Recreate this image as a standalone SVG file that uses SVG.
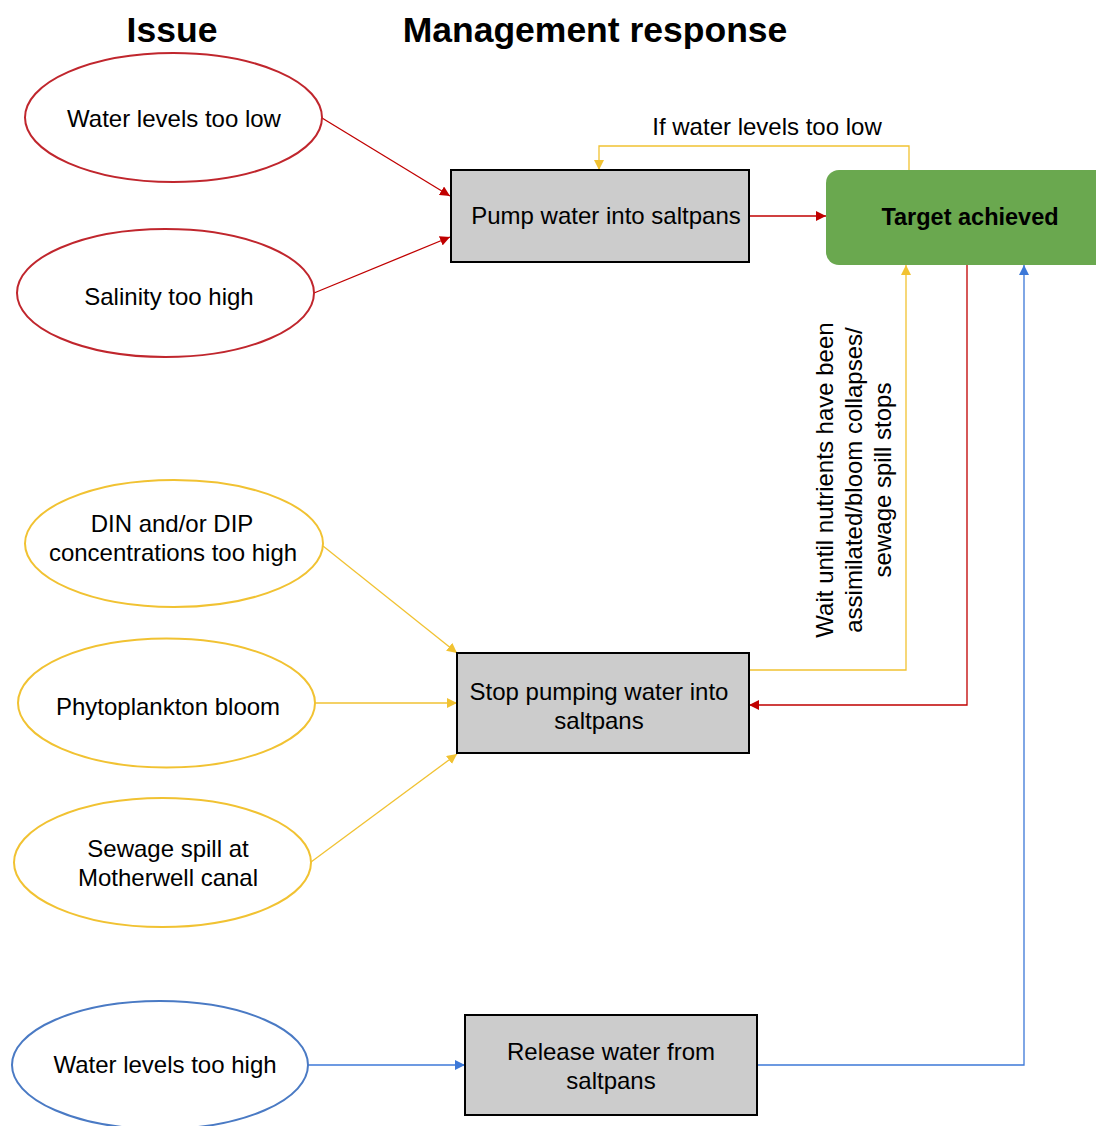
<svg xmlns="http://www.w3.org/2000/svg" width="1096" height="1126" viewBox="0 0 1096 1126">
<defs>
<style>
text{font-family:"Liberation Sans",Arial,sans-serif;font-size:24px;fill:#000;text-anchor:middle}
.title{font-size:35.5px;font-weight:bold}
.bold{font-weight:bold;font-size:23.5px}
.ell{fill:#fff;stroke-width:2}
.red{stroke:#c0262d}
.yel{stroke:#f1c232}
.blu{stroke:#4a7ac4}
.box{fill:#cccccc;stroke:#000;stroke-width:2}
.c{fill:none;stroke-width:1.3}
</style>
<marker id="ar" viewBox="0 0 10 10" refX="10" refY="5" markerWidth="10" markerHeight="10" markerUnits="userSpaceOnUse" orient="auto"><path d="M0,0L10,5L0,10z" fill="#c00000"/></marker>
<marker id="ay" viewBox="0 0 10 10" refX="10" refY="5" markerWidth="10" markerHeight="10" markerUnits="userSpaceOnUse" orient="auto"><path d="M0,0L10,5L0,10z" fill="#f1c232"/></marker>
<marker id="ab" viewBox="0 0 10 10" refX="10" refY="5" markerWidth="10" markerHeight="10" markerUnits="userSpaceOnUse" orient="auto"><path d="M0,0L10,5L0,10z" fill="#3c78d8"/></marker>
</defs>
<rect width="1096" height="1126" fill="#fff"/>
<g id="titles">
<text class="title" x="172" y="42">Issue</text>
<text class="title" x="595" y="42">Management response</text>
</g>
<g id="connectors">
<path class="c" d="M322,118L450,196" stroke="#c00000" marker-end="url(#ar)"/>
<path class="c" d="M314,293L450,237" stroke="#c00000" marker-end="url(#ar)"/>
<path class="c" d="M749,216L826,216" stroke="#c00000" marker-end="url(#ar)"/>
<path class="c" d="M909,170V146H599V170" stroke="#f1c232" marker-end="url(#ay)"/>
<path class="c" d="M323,546L457,653" stroke="#f1c232" marker-end="url(#ay)"/>
<path class="c" d="M315,703H457" stroke="#f1c232" marker-end="url(#ay)"/>
<path class="c" d="M311,862L457,754" stroke="#f1c232" marker-end="url(#ay)"/>
<path class="c" d="M749,670H906V265" stroke="#f1c232" marker-end="url(#ay)"/>
<path class="c" d="M967,264V705H749" stroke="#c00000" marker-end="url(#ar)"/>
<path class="c" d="M308,1065H465" stroke="#3c78d8" marker-end="url(#ab)"/>
<path class="c" d="M757,1065H1024V265" stroke="#3c78d8" marker-end="url(#ab)"/>
<text x="767" y="135">If water levels too low</text>
<g transform="translate(862,480) rotate(-90)">
<text x="0" y="-29">Wait until nutrients have been</text>
<text x="0" y="0">assimilated/bloom collapses/</text>
<text x="0" y="29">sewage spill stops</text>
</g>
</g>
<g id="n-low">
<ellipse class="ell red" cx="173.5" cy="117.5" rx="148.5" ry="64.5"/>
<text x="174" y="127">Water levels too low</text>
</g>
<g id="n-salinity">
<ellipse class="ell red" cx="165.5" cy="293" rx="148.5" ry="64"/>
<text x="169" y="305">Salinity too high</text>
</g>
<g id="n-din">
<ellipse class="ell yel" cx="174" cy="543.5" rx="149" ry="63.5"/>
<text x="172" y="532">DIN and/or DIP</text>
<text x="173" y="561">concentrations too high</text>
</g>
<g id="n-phyto">
<ellipse class="ell yel" cx="166.5" cy="703" rx="148.5" ry="64.5"/>
<text x="168" y="715">Phytoplankton bloom</text>
</g>
<g id="n-sewage">
<ellipse class="ell yel" cx="162.5" cy="862.5" rx="148.5" ry="64.5"/>
<text x="168" y="857">Sewage spill at</text>
<text x="168" y="886">Motherwell canal</text>
</g>
<g id="n-high">
<ellipse class="ell blu" cx="160" cy="1065" rx="148" ry="64"/>
<text x="165" y="1073">Water levels too high</text>
</g>
<g id="n-pump">
<rect class="box" x="451" y="170" width="298" height="92"/>
<text x="606" y="224">Pump water into saltpans</text>
</g>
<g id="n-target">
<rect x="826" y="170" width="285" height="95" rx="13" fill="#6aa84f"/>
<text class="bold" x="970" y="225">Target achieved</text>
</g>
<g id="n-stop">
<rect class="box" x="457" y="653" width="292" height="100"/>
<text x="599" y="700">Stop pumping water into</text>
<text x="599" y="729">saltpans</text>
</g>
<g id="n-release">
<rect class="box" x="465" y="1015" width="292" height="100"/>
<text x="611" y="1060">Release water from</text>
<text x="611" y="1089">saltpans</text>
</g>
</svg>
